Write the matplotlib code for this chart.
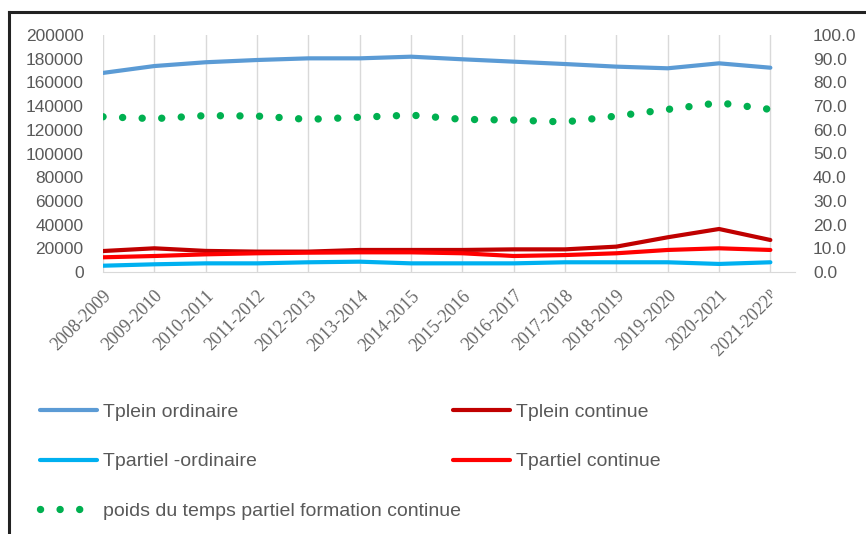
import matplotlib.pyplot as plt
from matplotlib.lines import Line2D

plt.rcParams["font.family"] = ["Liberation Sans", "DejaVu Sans"]
plt.rcParams["mathtext.fontset"] = "stix"

years = ["2008-2009", "2009-2010", "2010-2011", "2011-2012", "2012-2013",
         "2013-2014", "2014-2015", "2015-2016", "2016-2017", "2017-2018",
         "2018-2019", "2019-2020", "2020-2021", "2021-2022$^{\\mathrm{p}}$"]

tplein_ord = [168000, 173800, 177000, 178900, 180300, 180300, 181700,
              179500, 177500, 175500, 173300, 171900, 176100, 172400]
tplein_cont = [17700, 20000, 17800, 17200, 17200, 18600, 18600,
               18600, 19100, 19100, 21400, 29300, 36300, 27000]
tpartiel_ord = [5300, 6500, 7300, 7300, 8200, 8700, 7300,
                7300, 7300, 8200, 8200, 8200, 6800, 8200]
tpartiel_cont = [12400, 13500, 14900, 15800, 16300, 16600, 16600,
                 15800, 13500, 14300, 15800, 18600, 20000, 18600]
poids_partiel = [65.5, 64.7, 66.0, 65.8, 64.4, 65.3, 66.2,
                 64.4, 64.1, 63.3, 65.8, 68.6, 71.4, 68.6]

GREY = "#595959"
x = list(range(len(years)))

fig = plt.figure(figsize=(8.66, 5.34), dpi=100)
ax = fig.add_axes([103 / 866, 1 - 272 / 534, (795 - 103) / 866, (272 - 35) / 534])
ax2 = ax.twinx()

l1, = ax.plot(x, tplein_ord, color="#5B9BD5", lw=3.0, solid_capstyle="round")
l2, = ax.plot(x, tplein_cont, color="#C00000", lw=3.0, solid_capstyle="round")
l3, = ax.plot(x, tpartiel_ord, color="#00B0F0", lw=3.0, solid_capstyle="round")
l4, = ax.plot(x, tpartiel_cont, color="#FF0000", lw=3.0, solid_capstyle="round")
l5, = ax2.plot(x, poids_partiel, color="#00B050", lw=5.3,
               linestyle=(0, (0.01, 2.65)), dash_capstyle="round")

ax.set_xlim(0, 13.48)
ax.set_ylim(0, 200000)
ax2.set_ylim(0, 100)
ax.set_yticks(range(0, 200001, 20000))
ax2.set_yticks(range(0, 101, 10))
ax2.set_yticklabels([f"{v:.1f}" for v in range(0, 101, 10)])

ax.set_xticks(x)
ax.set_xticklabels(years, rotation=45, ha="right", va="top",
                   rotation_mode="anchor", family="Liberation Serif",
                   fontsize=13, color="#666666")
ax.grid(axis="x", color="#D9D9D9", lw=1.0)
ax.set_axisbelow(True)

for a in (ax, ax2):
    for s in ("top", "right", "left"):
        a.spines[s].set_visible(False)
    a.spines["bottom"].set_color("#D9D9D9")
ax2.spines["bottom"].set_visible(False)

ax.tick_params(axis="y", length=0, pad=14, labelsize=12.5, labelcolor=GREY)
ax2.tick_params(axis="y", length=0, pad=13, labelsize=12.5, labelcolor=GREY)
ax.tick_params(axis="x", length=0, pad=11)

# legend: two columns laid out as in the source
leg_kw = dict(frameon=False, fontsize=14, handlelength=2.95, handletextpad=0.3,
              labelspacing=1.65, labelcolor=GREY, borderaxespad=0, borderpad=0)
leg1 = fig.legend([l1, l3, l5],
                  ["Tplein ordinaire", "Tpartiel -ordinaire",
                   "poids du temps partiel formation continue"],
                  loc="upper left", bbox_to_anchor=(40 / 866, 1 - 403 / 534), **leg_kw)
leg2 = fig.legend([l2, l4], ["Tplein continue", "Tpartiel continue"],
                  loc="upper left", bbox_to_anchor=(453 / 866, 1 - 403 / 534), **leg_kw)

# outer frame (top and left edges visible)
fig.add_artist(Line2D([8.5 / 866, 1], [1 - 11.5 / 534] * 2, color="#222222", lw=2.2,
                      transform=fig.transFigure))
fig.add_artist(Line2D([8.5 / 866] * 2, [0, 1 - 11.5 / 534], color="#222222", lw=2.2,
                      transform=fig.transFigure))

fig.savefig("out.png", dpi=100)
